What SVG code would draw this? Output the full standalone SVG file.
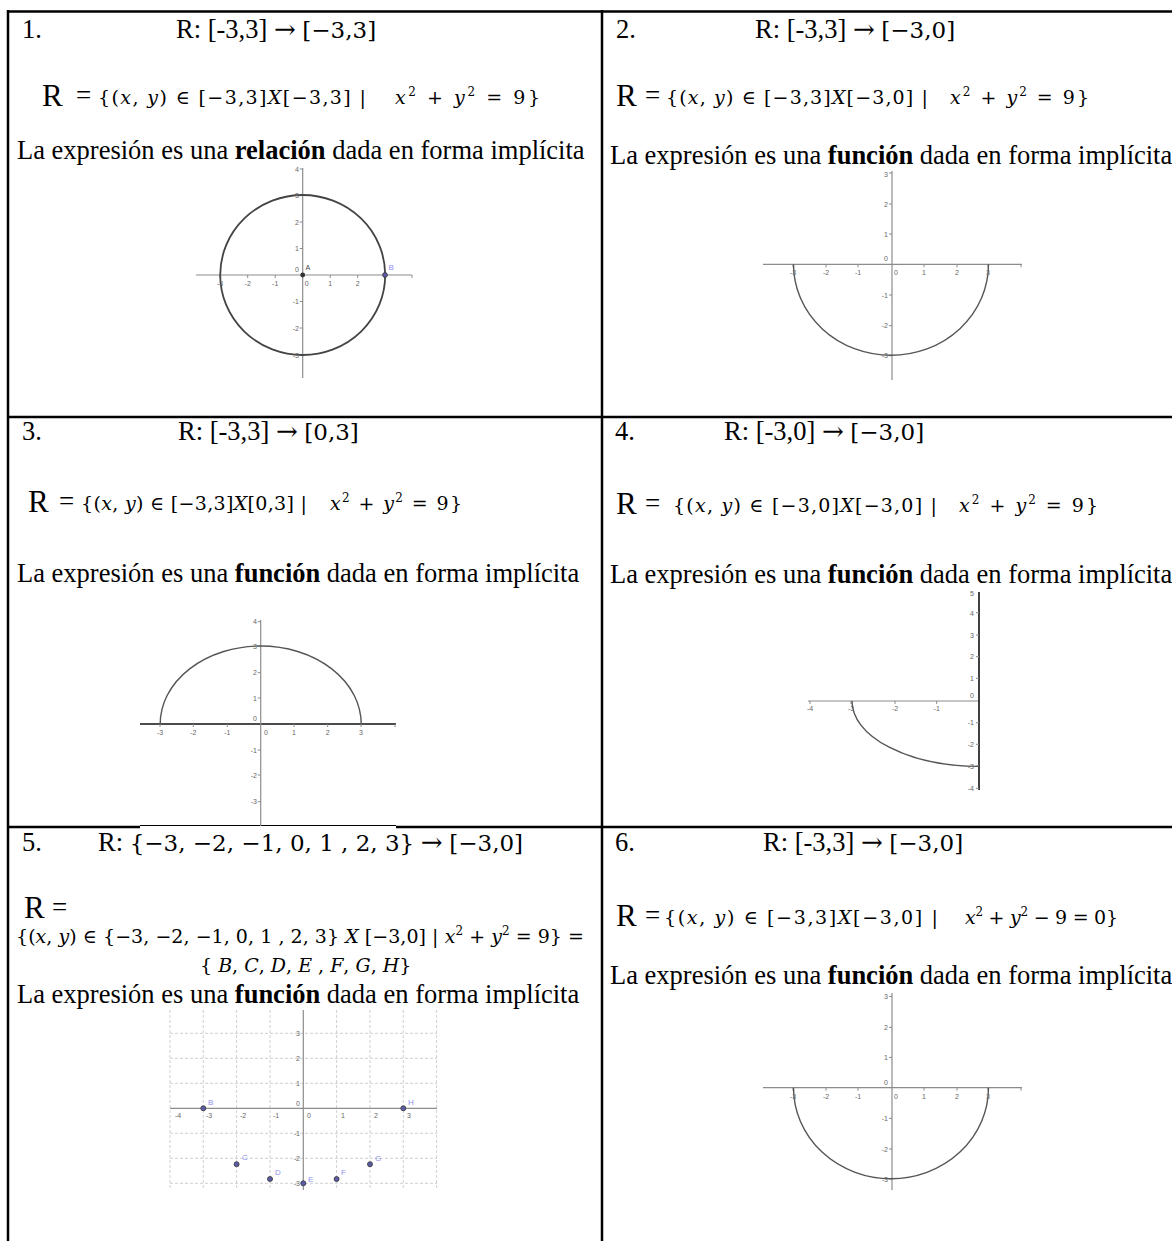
<svg xmlns="http://www.w3.org/2000/svg" width="1172" height="1241" viewBox="0 0 1172 1241">
<style>
.t{font-family:"Liberation Serif","Times New Roman",serif;font-size:26.5px;fill:#000}
.b{font-weight:bold}
.mt{font-family:"DejaVu Serif",serif;font-size:23px}
.ar{font-family:"DejaVu Serif",serif;font-size:26px}
.rr{font-family:"Liberation Serif","Times New Roman",serif;font-size:31px;fill:#000}
.eq{font-family:"Liberation Serif","Times New Roman",serif;font-size:27px;fill:#000}
.f{font-family:"DejaVu Serif",serif;font-size:19px;fill:#000}
.i{font-style:italic}
.sup{font-size:12px}
.ln{stroke:#000;stroke-width:2.5}
.ax{stroke:#8c8c8c;stroke-width:1.2;fill:none}
.axk{stroke:#111;stroke-width:1.6;fill:none}
.tm{stroke:#8c8c8c;stroke-width:1;fill:none}
.cv{stroke:#555;stroke-width:1.4;fill:none}
.cvk{stroke:#444;stroke-width:1.8;fill:none}
.grid{stroke:#c4c4c4;stroke-width:0.8;stroke-dasharray:3 2;fill:none}
.tke{font-family:"Liberation Sans",Arial,sans-serif;font-size:7px;fill:#666;text-anchor:end}
.tkm{font-family:"Liberation Sans",Arial,sans-serif;font-size:7px;fill:#666;text-anchor:middle}
.pt{fill:#5c5ca8;stroke:#333;stroke-width:0.8}
.pl{font-family:"Liberation Sans",Arial,sans-serif;font-size:8px;fill:#8f8fee}
</style>

<g id="table">
  <line class="ln" x1="8" y1="11.5" x2="1172" y2="11.5"/>
  <line class="ln" x1="8" y1="10" x2="8" y2="1241"/>
  <line class="ln" x1="602" y1="10" x2="602" y2="1241"/>
  <line class="ln" x1="8" y1="417" x2="1172" y2="417"/>
  <line class="ln" x1="8" y1="827" x2="140" y2="827"/>
  <line stroke="#000" stroke-width="1" x1="140" y1="825.5" x2="396" y2="825.5"/>
  <line class="ln" x1="396" y1="827" x2="1172" y2="827"/>
</g>

<!-- Cell 1 -->
<g id="cell1">
  <text class="t" x="22" y="38">1.</text>
  <text class="t" x="176" y="38">R: [-3,3] <tspan class="ar">→</tspan> <tspan class="mt">[−3,3]</tspan></text>
  <text class="rr" x="42" y="106">R</text>
  <text class="eq" x="76" y="104">=</text>
  <text class="f" x="98" y="104" textLength="268" lengthAdjust="spacing">{(<tspan class="i">x</tspan>, <tspan class="i">y</tspan>) ∈ [−3,3]<tspan class="i">X</tspan>[−3,3] |</text>
  <text class="f" x="395" y="104" textLength="145" lengthAdjust="spacing"><tspan class="i">x</tspan><tspan class="sup" dy="-8">2</tspan><tspan dy="8"> + </tspan><tspan class="i">y</tspan><tspan class="sup" dy="-8">2</tspan><tspan dy="8"> = 9}</tspan></text>
  <text class="t" x="17" y="159">La expresión es una <tspan class="b">relación</tspan> dada en forma implícita</text>
  <g id="graph1">
    <line class="ax" x1="196" y1="275" x2="412" y2="275"/>
    <line class="ax" x1="302.7" y1="168" x2="302.7" y2="378"/>
    <path class="tm" d="M220,275v3M247.7,275v3M275.2,275v3M330.2,275v3M357.7,275v3M385,275v3M412,275v3M302.7,169h-3M302.7,195h-3M302.7,222h-3M302.7,248.5h-3M302.7,301.5h-3M302.7,328h-3M302.7,355h-3"/>
    <ellipse class="cvk" cx="302.7" cy="275" rx="82.5" ry="80"/>
    <text class="tkm" x="220" y="286">-3</text><text class="tkm" x="247.7" y="286">-2</text><text class="tkm" x="275.2" y="286">-1</text><text class="tkm" x="306.7" y="286">0</text><text class="tkm" x="330.2" y="286">1</text><text class="tkm" x="357.7" y="286">2</text>
    <text class="tke" x="299" y="172">4</text><text class="tke" x="299" y="197.5">3</text><text class="tke" x="299" y="224.5">2</text><text class="tke" x="299" y="251">1</text><text class="tke" x="299" y="272">0</text><text class="tke" x="299" y="304">-1</text><text class="tke" x="299" y="330.5">-2</text><text class="tke" x="299" y="357.5">-3</text>
    <circle cx="302.7" cy="275" r="2.4" fill="#333"/>
    <text x="305.5" y="270" font-family="Liberation Sans, Arial, sans-serif" font-size="7" fill="#444">A</text>
    <circle class="pt" cx="385" cy="275" r="2.4"/>
    <text class="pl" x="388.5" y="270">B</text>
  </g>
</g>

<!-- Cell 2 -->
<g id="cell2">
  <text class="t" x="616" y="38">2.</text>
  <text class="t" x="755" y="38">R: [-3,3] <tspan class="ar">→</tspan> <tspan class="mt">[−3,0]</tspan></text>
  <text class="rr" x="616" y="106">R</text>
  <text class="eq" x="645" y="104">=</text>
  <text class="f" x="666" y="104" textLength="262" lengthAdjust="spacing">{(<tspan class="i">x</tspan>, <tspan class="i">y</tspan>) ∈ [−3,3]<tspan class="i">X</tspan>[−3,0] |</text>
  <text class="f" x="950" y="104" textLength="139" lengthAdjust="spacing"><tspan class="i">x</tspan><tspan class="sup" dy="-8">2</tspan><tspan dy="8"> + </tspan><tspan class="i">y</tspan><tspan class="sup" dy="-8">2</tspan><tspan dy="8"> = 9}</tspan></text>
  <text class="t" x="610" y="164">La expresión es una <tspan class="b">función</tspan> dada en forma implícita</text>
  <g id="graph2">
    <line class="ax" x1="763" y1="264.3" x2="1022" y2="264.3"/>
    <line class="ax" x1="892" y1="171" x2="892" y2="380"/>
    <path class="tm" d="M793,264.3v3M826,264.3v3M858,264.3v3M924,264.3v3M957,264.3v3M988,264.3v3M1021,264.3v3M892,173h-3M892,204h-3M892,234h-3M892,295h-3M892,325.7h-3M892,355.7h-3"/>
    <path class="cv" d="M793.5,264.3 A97.5,91 0 0 0 988.5,264.3"/>
    <text class="tkm" x="793" y="275">-3</text><text class="tkm" x="826" y="275">-2</text><text class="tkm" x="858" y="275">-1</text><text class="tkm" x="896" y="275">0</text><text class="tkm" x="924" y="275">1</text><text class="tkm" x="957" y="275">2</text><text class="tkm" x="988" y="275">3</text>
    <text class="tke" x="888" y="177">3</text><text class="tke" x="888" y="206.5">2</text><text class="tke" x="888" y="236.5">1</text><text class="tke" x="888" y="261">0</text><text class="tke" x="888" y="297.5">-1</text><text class="tke" x="888" y="328">-2</text><text class="tke" x="888" y="358">-3</text>
  </g>
</g>

<!-- Cell 3 -->
<g id="cell3">
  <text class="t" x="22" y="440">3.</text>
  <text class="t" x="178" y="440">R: [-3,3] <tspan class="ar">→</tspan> <tspan class="mt">[0,3]</tspan></text>
  <text class="rr" x="28" y="512">R</text>
  <text class="eq" x="59" y="510">=</text>
  <text class="f" x="81" y="510" textLength="226" lengthAdjust="spacing">{(<tspan class="i">x</tspan>, <tspan class="i">y</tspan>) ∈ [−3,3]<tspan class="i">X</tspan>[0,3] |</text>
  <text class="f" x="330" y="510" textLength="132" lengthAdjust="spacing"><tspan class="i">x</tspan><tspan class="sup" dy="-8">2</tspan><tspan dy="8"> + </tspan><tspan class="i">y</tspan><tspan class="sup" dy="-8">2</tspan><tspan dy="8"> = 9}</tspan></text>
  <text class="t" x="17" y="582">La expresión es una <tspan class="b">función</tspan> dada en forma implícita</text>
  <g id="graph3">
    <line class="axk" x1="140" y1="724" x2="396" y2="724"/>
    <line class="ax" x1="260.7" y1="620" x2="260.7" y2="826"/>
    <path class="tm" d="M160,724v3M193.3,724v3M227.3,724v3M294,724v3M327.7,724v3M361,724v3M395,724v3M260.7,621.7h-3M260.7,646h-3M260.7,672.7h-3M260.7,698h-3M260.7,750h-3M260.7,775h-3M260.7,801.7h-3"/>
    <path class="cv" d="M160.2,724 A100.5,78 0 0 1 361.2,724"/>
    <text class="tkm" x="160" y="735">-3</text><text class="tkm" x="193.3" y="735">-2</text><text class="tkm" x="227.3" y="735">-1</text><text class="tkm" x="266" y="735">0</text><text class="tkm" x="294" y="735">1</text><text class="tkm" x="327.7" y="735">2</text><text class="tkm" x="361" y="735">3</text>
    <text class="tke" x="257" y="624">4</text><text class="tke" x="257" y="648.5">3</text><text class="tke" x="257" y="675">2</text><text class="tke" x="257" y="700.5">1</text><text class="tke" x="257" y="721">0</text><text class="tke" x="257" y="752.5">-1</text><text class="tke" x="257" y="777.5">-2</text><text class="tke" x="257" y="804">-3</text>
  </g>
</g>

<!-- Cell 4 -->
<g id="cell4">
  <text class="t" x="615" y="440">4.</text>
  <text class="t" x="724" y="440">R: [-3,0] <tspan class="ar">→</tspan> <tspan class="mt">[−3,0]</tspan></text>
  <text class="rr" x="616" y="514">R</text>
  <text class="eq" x="645" y="512">=</text>
  <text class="f" x="673" y="512" textLength="264" lengthAdjust="spacing">{(<tspan class="i">x</tspan>, <tspan class="i">y</tspan>) ∈ [−3,0]<tspan class="i">X</tspan>[−3,0] |</text>
  <text class="f" x="959" y="512" textLength="139" lengthAdjust="spacing"><tspan class="i">x</tspan><tspan class="sup" dy="-8">2</tspan><tspan dy="8"> + </tspan><tspan class="i">y</tspan><tspan class="sup" dy="-8">2</tspan><tspan dy="8"> = 9}</tspan></text>
  <text class="t" x="610" y="583">La expresión es una <tspan class="b">función</tspan> dada en forma implícita</text>
  <g id="graph4">
    <line class="ax" x1="808" y1="701" x2="979" y2="701"/>
    <line class="axk" x1="979" y1="592" x2="979" y2="790"/>
    <path class="tm" d="M810,701v3M851,701v3M895,701v3M936.7,701v3M979,612.7h-3M979,635h-3M979,656.7h-3M979,678.3h-3M979,722.7h-3M979,744.3h-3M979,766h-3M979,788.3h-3"/>
    <path class="cv" d="M852,701 A127,65.4 0 0 0 979,766.4"/>
    <text class="tkm" x="810" y="711">-4</text><text class="tkm" x="851" y="711">-3</text><text class="tkm" x="895" y="711">-2</text><text class="tkm" x="936.7" y="711">-1</text>
    <text class="tke" x="974" y="596">5</text><text class="tke" x="974" y="615.5">4</text><text class="tke" x="974" y="637.5">3</text><text class="tke" x="974" y="659">2</text><text class="tke" x="974" y="680.5">1</text><text class="tke" x="974" y="698">0</text><text class="tke" x="974" y="725">-1</text><text class="tke" x="974" y="746.5">-2</text><text class="tke" x="974" y="768.5">-3</text><text class="tke" x="974" y="790.5">-4</text>
  </g>
</g>

<!-- Cell 5 -->
<g id="cell5">
  <text class="t" x="22" y="851">5.</text>
  <text class="t" x="98" y="851">R: <tspan class="mt">{−3, −2, −1, 0, 1 , 2, 3}</tspan> <tspan class="ar">→</tspan> <tspan class="mt">[−3,0]</tspan></text>
  <text class="rr" x="24" y="918">R</text>
  <text class="eq" x="52" y="916">=</text>
  <text class="f" x="16" y="943" textLength="568" lengthAdjust="spacing">{(<tspan class="i">x</tspan>, <tspan class="i">y</tspan>) ∈ {−3, −2, −1, 0, 1 , 2, 3} <tspan class="i">X</tspan> [−3,0] | <tspan class="i">x</tspan><tspan class="sup" dy="-8">2</tspan><tspan dy="8"> + </tspan><tspan class="i">y</tspan><tspan class="sup" dy="-8">2</tspan><tspan dy="8"> = 9} =</tspan></text>
  <text class="f" x="200" y="972" font-size="15">{ <tspan class="i">B</tspan>, <tspan class="i">C</tspan>, <tspan class="i">D</tspan>, <tspan class="i">E</tspan> , <tspan class="i">F</tspan>, <tspan class="i">G</tspan>, <tspan class="i">H</tspan>}</text>
  <text class="t" x="17" y="1003">La expresión es una <tspan class="b">función</tspan> dada en forma implícita</text>
  <g id="graph5">
    <path class="grid" d="M170,1010V1190M203.3,1010V1190M236.6,1010V1190M270,1010V1190M336.6,1010V1190M370,1010V1190M403.3,1010V1190M436.6,1010V1190M170,1033.3H437M170,1058.3H437M170,1083.3H437M170,1133.3H437M170,1158.3H437M170,1183.3H437"/>
    <line class="ax" x1="170" y1="1108.3" x2="437" y2="1108.3"/>
    <line class="ax" x1="303.3" y1="1010" x2="303.3" y2="1190"/>
    <text class="tkm" x="178" y="1118">-4</text><text class="tkm" x="209" y="1118">-3</text><text class="tkm" x="243" y="1118">-2</text><text class="tkm" x="276" y="1118">-1</text><text class="tkm" x="309" y="1118">0</text><text class="tkm" x="343" y="1118">1</text><text class="tkm" x="376" y="1118">2</text><text class="tkm" x="409" y="1118">3</text>
    <text class="tke" x="300" y="1035.5">3</text><text class="tke" x="300" y="1060.5">2</text><text class="tke" x="300" y="1085.5">1</text><text class="tke" x="300" y="1106">0</text><text class="tke" x="300" y="1135.5">-1</text><text class="tke" x="300" y="1160.5">-2</text><text class="tke" x="300" y="1185.5">-3</text>
    <circle class="pt" cx="203.3" cy="1108.3" r="2.5"/><text class="pl" x="208" y="1105">B</text>
    <circle class="pt" cx="236.6" cy="1164.2" r="2.5"/><text class="pl" x="242" y="1160">C</text>
    <circle class="pt" cx="270" cy="1179" r="2.5"/><text class="pl" x="275" y="1175">D</text>
    <circle class="pt" cx="303.3" cy="1183.3" r="2.5"/><text class="pl" x="308" y="1182">E</text>
    <circle class="pt" cx="336.6" cy="1179" r="2.5"/><text class="pl" x="341" y="1175">F</text>
    <circle class="pt" cx="370" cy="1164.2" r="2.5"/><text class="pl" x="375" y="1161">G</text>
    <circle class="pt" cx="403.3" cy="1108.3" r="2.5"/><text class="pl" x="408" y="1105">H</text>
  </g>
</g>

<!-- Cell 6 -->
<g id="cell6">
  <text class="t" x="615" y="851">6.</text>
  <text class="t" x="763" y="851">R: [-3,3] <tspan class="ar">→</tspan> <tspan class="mt">[−3,0]</tspan></text>
  <text class="rr" x="616" y="926">R</text>
  <text class="eq" x="645" y="924">=</text>
  <text class="f" x="664" y="924" textLength="274" lengthAdjust="spacing">{(<tspan class="i">x</tspan>, <tspan class="i">y</tspan>) ∈ [−3,3]<tspan class="i">X</tspan>[−3,0] |</text>
  <text class="f" x="965" y="924" textLength="153" lengthAdjust="spacing"><tspan class="i">x</tspan><tspan class="sup" dy="-8">2</tspan><tspan dy="8"> + </tspan><tspan class="i">y</tspan><tspan class="sup" dy="-8">2</tspan><tspan dy="8"> − 9 = 0}</tspan></text>
  <text class="t" x="610" y="984">La expresión es una <tspan class="b">función</tspan> dada en forma implícita</text>
  <g id="graph6">
    <line class="ax" x1="763" y1="1087.7" x2="1022" y2="1087.7"/>
    <line class="ax" x1="892" y1="993" x2="892" y2="1190"/>
    <path class="tm" d="M793,1087.7v3M826,1087.7v3M858,1087.7v3M924,1087.7v3M957,1087.7v3M988,1087.7v3M1021,1087.7v3M892,996.4h-3M892,1027.4h-3M892,1057.4h-3M892,1118.4h-3M892,1149h-3M892,1179h-3"/>
    <path class="cv" d="M793.5,1087.7 A97.5,91 0 0 0 988.5,1087.7"/>
    <text class="tkm" x="793" y="1098.5">-3</text><text class="tkm" x="826" y="1098.5">-2</text><text class="tkm" x="858" y="1098.5">-1</text><text class="tkm" x="896" y="1098.5">0</text><text class="tkm" x="924" y="1098.5">1</text><text class="tkm" x="957" y="1098.5">2</text><text class="tkm" x="988" y="1098.5">3</text>
    <text class="tke" x="888" y="999">3</text><text class="tke" x="888" y="1030">2</text><text class="tke" x="888" y="1060">1</text><text class="tke" x="888" y="1084.5">0</text><text class="tke" x="888" y="1121">-1</text><text class="tke" x="888" y="1151.5">-2</text><text class="tke" x="888" y="1181.5">-3</text>
  </g>
</g>
</svg>
